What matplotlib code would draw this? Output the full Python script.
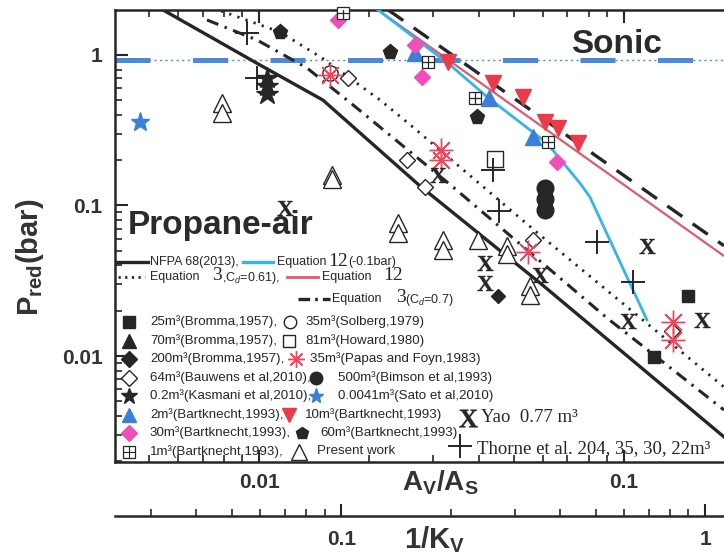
import numpy as np
import matplotlib
matplotlib.use("Agg")
import matplotlib.pyplot as plt
from matplotlib.textpath import TextPath
from matplotlib.font_manager import FontProperties
from matplotlib.path import Path
from matplotlib.ticker import FixedLocator, NullFormatter, FixedFormatter

plt.rcParams['font.family'] = ['Liberation Sans', 'DejaVu Sans']
plt.rcParams['mathtext.fontset'] = 'custom'
plt.rcParams['mathtext.rm'] = 'Liberation Sans'
plt.rcParams['mathtext.it'] = 'Liberation Sans:italic'
plt.rcParams['mathtext.bf'] = 'Liberation Sans:bold'

INK = '#262626'
BLUE = '#4a8ad8'
CYAN = '#35b4e8'
RED = '#e05a6e'

# ---- model curves: Av/As vs Pred (bar)
nfpa_x = [0.00546, 0.01006, 0.01496, 0.02761, 0.05885, 0.188]
nfpa_y = [1.99, 0.858, 0.502, 0.1348, 0.0306, 0.0029]
eq3_07_x = [0.00720, 0.00987, 0.01353, 0.01810, 0.0340, 0.0898, 0.188]
eq3_07_y = [1.709, 1.258, 0.820, 0.4655, 0.1327, 0.0179, 0.00438]
eq3_061_x = [0.00748, 0.01142, 0.01488, 0.02146, 0.0264, 0.05885, 0.188]
eq3_061_y = [2.05, 1.42, 0.955, 0.502, 0.332, 0.0637, 0.00622]
eq12_x = [0.0212, 0.188]
eq12_y = [1.99, 0.0462]
eq12m_x = [0.0212, 0.0334, 0.0422, 0.0615, 0.0757, 0.0807, 0.1019, 0.1156]
eq12m_y = [1.99, 0.858, 0.526, 0.260, 0.1411, 0.1138, 0.0335, 0.0174]
dash_x = [0.0226, 0.188]
dash_y = [1.99, 0.0540]
sonic = 0.92

# ---- experimental points
bromma25_x = [0.1496, 0.1208]
bromma25_y = [0.0250, 0.00985]
bromma70_x = []
bromma70_y = []
bromma200_x = [0.0452]
bromma200_y = [0.0250]
bauwens_x = [0.01754, 0.0254, 0.0285, 0.0564, 0.1355]
bauwens_y = [0.703, 0.2006, 0.1327, 0.059, 0.01466]
kasmani_x = [0.01052, 0.01052, 0.01052]
kasmani_y = [0.703, 0.622, 0.551]
bart2_x = [0.0267, 0.0427, 0.0564]
bart2_y = [1.031, 0.518, 0.285]
bart30_x = [0.01645, 0.0267, 0.0280, 0.0655]
bart30_y = [1.709, 1.165, 0.714, 0.1945]
bart1_x = [0.01698, 0.0290, 0.0391, 0.0620]
bart1_y = [1.90, 0.899, 0.518, 0.264]
solberg_x = [0.01565]
solberg_y = [0.759]
howard_x = [0.0444]
howard_y = [0.2038]
papas_x = [0.01565, 0.0315, 0.0315, 0.0546, 0.1362, 0.1362]
papas_y = [0.736, 0.2338, 0.2006, 0.0491, 0.0168, 0.0128]
bimson_x = [0.0608, 0.0608, 0.0608]
bimson_y = [0.1306, 0.1105, 0.0933]
sato_x = [0.00472]
sato_y = [0.359]
bart10_x = [0.0330, 0.0438, 0.0528, 0.0608, 0.0659, 0.0748]
bart10_y = [0.899, 0.652, 0.526, 0.359, 0.327, 0.260]
bart60_x = [0.01142, 0.0229, 0.0396]
bart60_y = [1.42, 1.047, 0.387]
present_x = [0.00792, 0.00792, 0.01585, 0.01585, 0.02404, 0.02404, 0.03192, 0.03192,
             0.0398, 0.0478, 0.0478, 0.0552, 0.0552]
present_y = [0.480, 0.412, 0.1595, 0.150, 0.0765, 0.0657, 0.0590, 0.0506,
             0.0590, 0.0538, 0.0476, 0.0292, 0.0254]
yao_x = [0.01178, 0.0309, 0.0416, 0.0416, 0.05885, 0.1156, 0.1025, 0.1637]
yao_y = [0.0962, 0.1595, 0.0415, 0.0306, 0.0345, 0.0538, 0.0171, 0.0174]
thorne_x = [0.00927, 0.00987, 0.0438, 0.0455, 0.0843, 0.1059]
thorne_y = [1.40, 0.703, 0.1721, 0.0919, 0.0572, 0.0310]

xlim = (0.00403, 0.188)
ylim = (0.001976, 1.99)
kv_lim = (0.0239, 1.127)


def serif_x_marker():
    tp = TextPath((0, 0), 'X', size=10,
                  prop=FontProperties(family='Liberation Serif', weight='bold'))
    ext = tp.get_extents()
    v = tp.vertices.copy()
    v[:, 0] -= (ext.x0 + ext.x1) / 2
    v[:, 1] -= (ext.y0 + ext.y1) / 2
    return Path(v, tp.codes)


XMARK = serif_x_marker()

st = {
    'bromma25': dict(marker='s', ms=9, mfc=INK, mec=INK),
    'bromma70': dict(marker='^', ms=10, mfc=INK, mec=INK),
    'bromma200': dict(marker='D', ms=7, mfc=INK, mec=INK),
    'bauwens': dict(marker='D', ms=8.5, mfc='white', mec=INK, mew=1.0),
    'kasmani': dict(marker='*', ms=16, mfc=INK, mec=INK),
    'bart2': dict(marker='^', ms=11, mfc='#3b7fd8', mec='#3b7fd8'),
    'bart30': dict(marker='D', ms=8.5, mfc='#f04eb8', mec='#f04eb8'),
    'bart1': dict(marker='s', ms=9, mfc='white', mec=INK, mew=0.9),
    'solberg': dict(marker='o', ms=11, mfc='none', mec=INK, mew=1.0),
    'howard': dict(marker='s', ms=11, mfc='white', mec=INK, mew=1.0),
    'papas': dict(marker=(8, 2, 0), ms=17, mec='#f0455a', mew=1.0),
    'bimson': dict(marker='o', ms=12, mfc=INK, mec=INK),
    'sato': dict(marker='*', ms=14, mfc='#3b7fd8', mec='#3b7fd8'),
    'bart10': dict(marker='v', ms=12, mfc='#ec3a48', mec='#ec3a48'),
    'bart60': dict(marker='p', ms=11, mfc=INK, mec=INK),
    'present': dict(marker='^', ms=13, mfc='white', mec=INK, mew=1.0),
    'yao': dict(marker=XMARK, ms=12, mfc=INK, mec=INK, mew=0.3),
    'thorne': dict(marker='+', ms=17, mec=INK, mew=1.4),
}

fig = plt.figure(figsize=(7.24, 5.55), dpi=100)
ax = fig.add_axes([115 / 724, 93 / 555, 609 / 724, 452 / 555])
ax.set_xscale('log')
ax.set_yscale('log')
ax.set_xlim(*xlim)
ax.set_ylim(*ylim)

# sonic line
ax.axhline(sonic, color=BLUE, lw=1.0, ls=(0, (1.5, 2.5)), zorder=2)
ax.axhline(sonic, color=BLUE, lw=3.6, ls=(0, (7, 8.5)), zorder=2)

ax.plot(nfpa_x, nfpa_y, color=INK, lw=2.4, zorder=3)
ax.plot(eq3_07_x, eq3_07_y, color=INK, lw=2.2, ls=(0, (4, 2.2, 0.8, 2.2)), zorder=3)
ax.plot(eq3_061_x, eq3_061_y, color=INK, lw=2.0, ls=(0, (0.8, 2.3)), zorder=3)
ax.plot(dash_x, dash_y, color=INK, lw=2.4, ls=(0, (5.5, 3.8)), zorder=3)
ax.plot(eq12_x, eq12_y, color=RED, lw=1.6, zorder=3)
ax.plot(eq12m_x, eq12m_y, color=CYAN, lw=2.0, zorder=3)

pts = [
    (present_x, present_y, 'present'), (bromma25_x, bromma25_y, 'bromma25'),
    (bromma70_x, bromma70_y, 'bromma70'), (bromma200_x, bromma200_y, 'bromma200'),
    (bauwens_x, bauwens_y, 'bauwens'), (kasmani_x, kasmani_y, 'kasmani'),
    (bart2_x, bart2_y, 'bart2'), (bart30_x, bart30_y, 'bart30'),
    (bart1_x, bart1_y, 'bart1'), (solberg_x, solberg_y, 'solberg'),
    (howard_x, howard_y, 'howard'), (papas_x, papas_y, 'papas'),
    (bimson_x, bimson_y, 'bimson'), (sato_x, sato_y, 'sato'),
    (bart10_x, bart10_y, 'bart10'), (bart60_x, bart60_y, 'bart60'),
    (yao_x, yao_y, 'yao'), (thorne_x, thorne_y, 'thorne'),
]
for xs, ys, key in pts:
    ax.plot(xs, ys, ls='none', zorder=4, clip_on=False, **st[key])
    if key == 'bart1':
        ax.plot(xs, ys, ls='none', marker='+', ms=9, mec=INK, mew=0.9, zorder=4)

# axes styling
for side in ['left', 'top', 'bottom']:
    ax.spines[side].set_linewidth(1.8)
    ax.spines[side].set_color(INK)
ax.spines['right'].set_visible(False)
ax.xaxis.set_major_locator(FixedLocator([0.01, 0.1]))
ax.xaxis.set_major_formatter(FixedFormatter(['0.01', '0.1']))
ax.xaxis.set_minor_locator(FixedLocator([m * 10.0 ** e for e in (-3, -2, -1) for m in range(2, 10)]))
ax.xaxis.set_minor_formatter(NullFormatter())
ax.yaxis.set_major_locator(FixedLocator([0.01, 0.1, 1]))
ax.yaxis.set_major_formatter(FixedFormatter(['0.01', '0.1', '1']))
ax.yaxis.set_minor_locator(FixedLocator([m * 10.0 ** e for e in (-3, -2, -1, 0) for m in range(2, 10)]))
ax.yaxis.set_minor_formatter(NullFormatter())
ax.tick_params(which='both', direction='in', top=True, right=False, color=INK,
               labelsize=15, labelcolor='#333333')
ax.tick_params(which='major', length=9, width=1.5)
ax.tick_params(which='minor', length=5, width=1.2)
ax.tick_params(axis='x', pad=8)
ax.tick_params(axis='y', pad=9)
for lab in ax.get_xticklabels() + ax.get_yticklabels():
    lab.set_fontweight('bold')

# second scale 1/Kv
ax2 = fig.add_axes([115 / 724, 39 / 555, 609 / 724, 0.001])
ax2.set_xscale('log')
ax2.set_xlim(*kv_lim)
ax2.set_yticks([])
for side in ['left', 'top', 'right']:
    ax2.spines[side].set_visible(False)
ax2.spines['bottom'].set_linewidth(1.8)
ax2.spines['bottom'].set_color(INK)
ax2.patch.set_visible(False)
ax2.xaxis.set_major_locator(FixedLocator([0.1, 1]))
ax2.xaxis.set_major_formatter(FixedFormatter(['0.1', '1']))
ax2.xaxis.set_minor_locator(FixedLocator([m * 10.0 ** e for e in (-2, -1) for m in range(2, 10)]))
ax2.xaxis.set_minor_formatter(NullFormatter())
ax2.tick_params(which='both', direction='in', color=INK, labelsize=15,
                labelcolor='#333333', pad=10)
ax2.tick_params(which='major', length=9, width=1.5)
ax2.tick_params(which='minor', length=5, width=1.2)
for lab in ax2.get_xticklabels():
    lab.set_fontweight('bold')

# overlay in pixel units for labels and the hand-made legend
lg = fig.add_axes([0, 0, 1, 1])
lg.set_xlim(0, 724)
lg.set_ylim(555, 0)
lg.axis('off')

lg.text(30, 257, r'$\mathbf{P_{red}}$(bar)', rotation=90, ha='center', va='center',
        fontsize=21, fontweight='bold', color='#333333')
lg.text(440, 483, r'$\mathbf{A_{V}/A_{S}}$', ha='center', va='center', fontsize=20,
        color='#333333')
lg.text(435, 540, r'$\mathbf{1/K_{V}}$', ha='center', va='center', fontsize=21,
        color='#333333')
lg.text(128, 234, 'Propane-air', ha='left', va='baseline', fontsize=24,
        fontweight='bold', color='#2a2a2a')
lg.text(617, 53, 'Sonic', ha='center', va='baseline', fontsize=24,
        fontweight='bold', color='#2a2a2a')


def ltxt(px, py, s, size=9.6, **kw):
    lg.text(px, py, s, ha='left', va='center', fontsize=size, color=INK, **kw)


def lmark(px, py, key, ms=None):
    kw = dict(st[key])
    if ms is not None:
        kw['ms'] = ms
    lg.plot([px], [py], ls='none', **kw)
    if key == 'bart1':
        lg.plot([px], [py], ls='none', marker='+', ms=kw['ms'], mec=INK, mew=0.8)


SERIF = ['Liberation Serif', 'DejaVu Serif']

# line entries
lg.plot([117, 148], [262, 262], color=INK, lw=2.4)
ltxt(150, 262, 'NFPA 68(2013),', 9)
lg.plot([243, 273], [262, 262], color=CYAN, lw=2.4)
ltxt(277, 262, 'Equation', 9)
ltxt(328, 261, '12', 14, family=SERIF)
ltxt(348, 262, '(-0.1bar)', 9)

lg.plot([118, 145], [277, 277], color=INK, lw=2.0, ls=(0, (0.8, 1.6)))
ltxt(150, 277, 'Equation', 9)
ltxt(212, 276, '3', 14, family=SERIF)
ltxt(222, 278, ',C$_d$=0.61),', 9)
lg.plot([287, 318], [277, 277], color=RED, lw=2.0)
ltxt(322, 277, 'Equation', 9)
ltxt(383, 276, '12', 14, family=SERIF)

lg.plot([298, 330], [299, 299], color=INK, lw=2.4, ls=(0, (3.5, 1.5, 0.8, 1.5)))
ltxt(332, 299, 'Equation', 9)
ltxt(396, 298, '3', 14, family=SERIF)
ltxt(405, 300, '(C$_d$=0.7)', 9)

# marker entries
rows = [
    (322, 'bromma25', 8, '25m³(Bromma,1957),', 290, 'solberg', 9, 305, '35m³(Solberg,1979)'),
    (340.5, 'bromma70', 10, '70m³(Bromma,1957),', 289, 'howard', 8, 305, '81m³(Howard,1980)'),
    (359, 'bromma200', 8, '200m³(Bromma,1957),', 296, 'papas', 12, 310, '35m³(Papas and Foyn,1983)'),
    (377.5, 'bauwens', 8, '64m³(Bauwens et al,2010),', 316, 'bimson', 9, 338, '500m³(Bimson et al,1993)'),
    (396, 'kasmani', 12, '0.2m³(Kasmani et al,2010),', 316, 'sato', 11, 338, '0.0041m³(Sato et al,2010)'),
    (414.5, 'bart2', 10, '2m³(Bartknecht,1993),', 289, 'bart10', 10, 305, '10m³(Bartknecht,1993)'),
    (433, 'bart30', 8, '30m³(Bartknecht,1993),', 302, 'bart60', 9, 320, '60m³(Bartknecht,1993)'),
    (451.5, 'bart1', 8, '1m³(Bartknecht,1993),', 299, 'present', 11, 317, 'Present work'),
]
for py, k1, m1, t1, x2, k2, m2, tx2, t2 in rows:
    lmark(129, py, k1, m1)
    ltxt(150, py, t1)
    lmark(x2, py, k2, m2)
    ltxt(tx2, py, t2)

lmark(468, 418, 'yao', 14)
ltxt(481, 418, 'Yao  0.77 m³', 13.5, family=SERIF)
lmark(460, 446, 'thorne', 17)
ltxt(477, 449, 'Thorne et al. 204, 35, 30, 22m³', 13.5, family=SERIF)

fig.savefig('out.png', dpi=100)
